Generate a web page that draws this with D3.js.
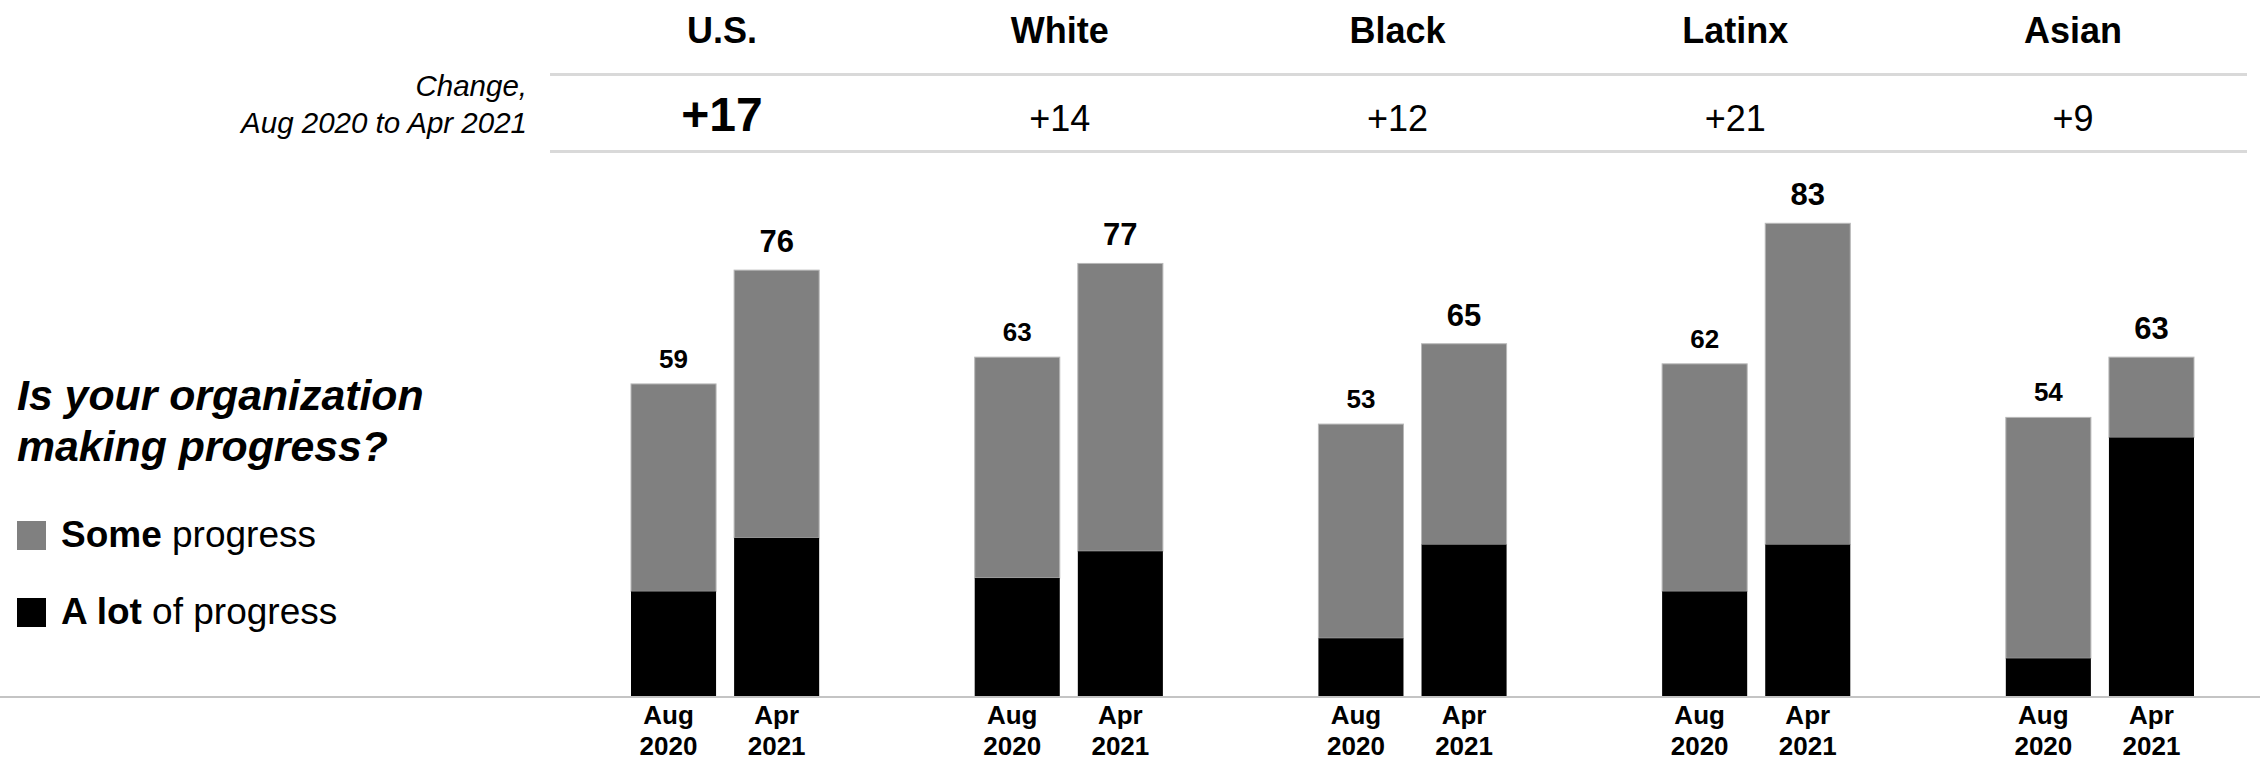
<!DOCTYPE html>
<html>
<head>
<meta charset="utf-8">
<script src="https://cdn.jsdelivr.net/npm/d3@7/dist/d3.min.js"></script>
<style>
  html, body { margin: 0; padding: 0; background: #ffffff; }
  svg { display: block; font-family: "Liberation Sans", Arial, Helvetica, sans-serif; }
</style>
</head>
<body>
<svg id="chart" width="2260" height="761"></svg>
<script>
// Survey groups and the two waves
const categories = ["U.S.", "White", "Black", "Latinx", "Asian"];
const periods = ["Aug 2020", "Apr 2021"];
const periodLabelLines = [["Aug", "2020"], ["Apr", "2021"]];

// Share reporting any progress (total of both answers), per wave
const totalAug2020 = [59, 63, 53, 62, 54];
const totalApr2021 = [76, 77, 65, 83, 63];

// Share reporting "a lot of progress", per wave
const aLotAug2020 = [28, 30, 21, 28, 18];
const aLotApr2021 = [36, 34, 35, 35, 51];

// Legend entries
const legendItems = [
  { bold: "Some", rest: " progress", color: "#808080" },
  { bold: "A lot", rest: " of progress", color: "#000000" }
];
const legendTitle = ["Is your organization", "making progress?"];
const changeCaption = ["Change,", "Aug 2020 to Apr 2021"];

const totals = [totalAug2020, totalApr2021];
const aLots = [aLotAug2020, aLotApr2021];

const rows = [];
categories.forEach((cat, i) => {
  periods.forEach((p, j) => {
    rows.push({ cat, period: p, pIndex: j, total: totals[j][i], aLot: aLots[j][i] });
  });
});

const svg = d3.select("#chart");
svg.append("rect").attr("width", 2260).attr("height", 761).attr("fill", "#ffffff");

// Scales
const baseline = 696.5;
const y = d3.scaleLinear().domain([12.3, 100]).range([baseline, 109.5]);
const xGroup = d3.scaleBand().domain(categories).range([631, 2194]).paddingInner(0.4525).paddingOuter(0);
const xBar = d3.scaleBand().domain(periods).range([0, xGroup.bandwidth()]).paddingInner(0.175).paddingOuter(0);
const xHeader = d3.scalePoint().domain(categories).range([722, 2073]);

// Header rules
const rules = svg.append("g");
[74.5, 151.5].forEach(yy => {
  rules.append("line")
    .attr("x1", 550).attr("x2", 2247)
    .attr("y1", yy).attr("y2", yy)
    .attr("stroke", "#d9d9d9").attr("stroke-width", 3);
});

// Group titles
svg.append("g").selectAll("text").data(categories).join("text")
  .attr("x", d => xHeader(d)).attr("y", 43)
  .attr("text-anchor", "middle")
  .attr("font-size", 36).attr("font-weight", "bold").attr("fill", "#000")
  .text(d => d);

// Change between waves
svg.append("g").selectAll("text").data(categories).join("text")
  .attr("x", d => xHeader(d)).attr("y", 131)
  .attr("text-anchor", "middle")
  .attr("font-size", (d, i) => i === 0 ? 48 : 36)
  .attr("font-weight", (d, i) => i === 0 ? "bold" : "normal")
  .attr("fill", "#000")
  .text((d, i) => {
    const diff = totalApr2021[i] - totalAug2020[i];
    return (diff >= 0 ? "+" : "") + diff;
  });

// Change caption
svg.append("g").selectAll("text").data(changeCaption).join("text")
  .attr("x", 527).attr("y", (d, i) => 96 + i * 37)
  .attr("text-anchor", "end")
  .attr("font-size", 29.5).attr("font-style", "italic").attr("fill", "#000")
  .text(d => d);

// Stacked bars
const bars = svg.append("g").selectAll("g").data(rows).join("g")
  .attr("transform", d => `translate(${xGroup(d.cat) + xBar(d.period)},0)`);

bars.append("rect")
  .attr("x", 0).attr("width", xBar.bandwidth())
  .attr("y", d => y(d.total))
  .attr("height", d => y(d.aLot) - y(d.total))
  .attr("fill", "#808080")
  .attr("stroke", "#b8b8b8").attr("stroke-width", 1);

bars.append("rect")
  .attr("x", 0).attr("width", xBar.bandwidth())
  .attr("y", d => y(d.aLot))
  .attr("height", d => y(y.domain()[0]) - y(d.aLot))
  .attr("fill", "#000000");

// Total labels above bars
bars.append("text")
  .attr("x", xBar.bandwidth() / 2)
  .attr("y", d => y(d.total) - (d.pIndex === 0 ? 16 : 18))
  .attr("text-anchor", "middle")
  .attr("font-weight", "bold")
  .attr("font-size", d => d.pIndex === 0 ? 26 : 31)
  .attr("fill", "#000")
  .text(d => d.total);

// Baseline
svg.append("line")
  .attr("x1", 0).attr("x2", 2260)
  .attr("y1", baseline + 0.5).attr("y2", baseline + 0.5)
  .attr("stroke", "#c4c4c4").attr("stroke-width", 2);

// Wave labels under bars
bars.each(function (d) {
  const t = d3.select(this).append("text")
    .attr("text-anchor", "middle")
    .attr("font-size", 26).attr("font-weight", "bold").attr("fill", "#000");
  periodLabelLines[d.pIndex].forEach((line, k) => {
    t.append("tspan")
      .attr("x", xBar.bandwidth() / 2 - (d.pIndex === 0 ? 5 : 0))
      .attr("y", 724 + k * 31)
      .text(line);
  });
});

// Legend title
svg.append("g").selectAll("text").data(legendTitle).join("text")
  .attr("x", 17).attr("y", (d, i) => 410 + i * 51)
  .attr("font-size", 42.8).attr("font-weight", "bold").attr("font-style", "italic").attr("fill", "#000")
  .text(d => d);

// Legend entries
const legend = svg.append("g").selectAll("g").data(legendItems).join("g")
  .attr("transform", (d, i) => `translate(17,${521 + i * 77})`);
legend.append("rect")
  .attr("width", 29).attr("height", 29)
  .attr("fill", d => d.color);
const lt = legend.append("text")
  .attr("x", 44).attr("y", 26)
  .attr("font-size", 37).attr("fill", "#000");
lt.append("tspan").attr("font-weight", "bold").text(d => d.bold);
lt.append("tspan").text(d => d.rest);
</script>
</body>
</html>
